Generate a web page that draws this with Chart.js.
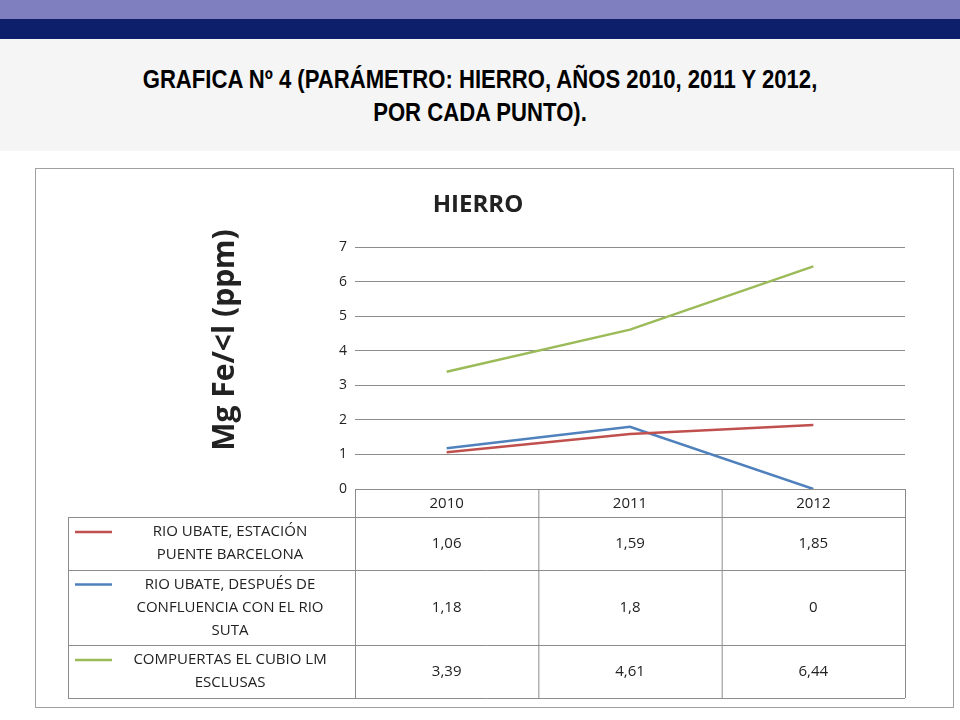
<!DOCTYPE html>
<html><head><meta charset="utf-8">
<script src="https://cdn.jsdelivr.net/npm/chart.js@4/dist/chart.umd.min.js"></script>
<style>
body{margin:0;width:960px;height:720px;position:relative;background:#fff;font-family:"Liberation Sans",Arial,sans-serif;overflow:hidden}
#b1{position:absolute;left:0;top:0;width:960px;height:19px;background:#7f7fbf}
#b2{position:absolute;left:0;top:19px;width:960px;height:20px;background:#0d1f6b}
#hd{position:absolute;left:0;top:39px;width:960px;height:112px;background:#f5f5f5}
#t{position:absolute;left:0;top:63px;width:960px;text-align:center;font-weight:bold;font-size:26px;line-height:33px;color:#000;transform:scaleX(0.85);transform-origin:center}
#box{position:absolute;left:35px;top:168px;width:919px;height:540px;border:1.5px solid #a0a0a0;box-sizing:border-box}
canvas{position:absolute;left:0;top:0}
</style></head><body>
<div id="b1"></div><div id="b2"></div><div id="hd"></div>
<div id="t">GRAFICA Nº 4 (PARÁMETRO: HIERRO, AÑOS 2010, 2011 Y 2012,<br>POR CADA PUNTO).</div>
<div id="box"></div>
<canvas id="c" width="960" height="720"></canvas>
<script>
const categories=["2010","2011","2012"];
const seriesNames=[["RIO UBATE, ESTACIÓN","PUENTE BARCELONA"],["RIO UBATE, DESPUÉS DE","CONFLUENCIA CON EL RIO","SUTA"],["COMPUERTAS EL CUBIO LM","ESCLUSAS"]];
const puenteBarcelona=[1.06,1.59,1.85];
const despuesConfluencia=[1.18,1.8,0];
const compuertasCubio=[3.39,4.61,6.44];
const colors=["#c0504d","#4f81bd","#9bbb59"];
const rowHeights=[53,75,53];
const series=[puenteBarcelona,despuesConfluencia,compuertasCubio];
const FONT='"Open Sans","Liberation Sans",sans-serif';
const tablePlugin={id:'tbl',afterDraw(ch){
 const c=ch.ctx,xs=ch.scales.x,a=ch.chartArea;
 const half=(xs.getPixelForValue(1)-xs.getPixelForValue(0))/2;
 const bounds=[68,a.left];categories.forEach((_,i)=>bounds.push(xs.getPixelForValue(i)+half));
 const hTop=a.bottom,hBot=hTop+28;
 let tops=[hBot];rowHeights.forEach(h=>tops.push(tops[tops.length-1]+h));
 c.save();c.strokeStyle='#8c8c8c';c.lineWidth=1;
 c.beginPath();
 c.moveTo(a.left,hTop+0.5);c.lineTo(a.right,hTop+0.5);
 tops.forEach(y=>{c.moveTo(68,y+0.5);c.lineTo(a.right,y+0.5);});
 bounds.forEach((x,i)=>{c.moveTo(x+0.5,i==0?hBot:hTop);c.lineTo(x+0.5,tops[tops.length-1]);});
 c.stroke();
 c.fillStyle='#222';c.textAlign='center';c.textBaseline='middle';
 c.font='15px '+FONT;
 categories.forEach((cat,i)=>c.fillText(cat,xs.getPixelForValue(i),(hTop+hBot)/2+1));
 series.forEach((s,r)=>{
  const yc=(tops[r]+tops[r+1])/2;
  s.forEach((v,i)=>c.fillText(String(v).replace('.',','),xs.getPixelForValue(i),yc));
  const L=seriesNames[r];
  L.forEach((t,k)=>c.fillText(t,230,yc+(k-(L.length-1)/2)*23));
  c.strokeStyle=colors[r];c.lineWidth=2.5;c.beginPath();
  const ly=yc-(L.length-1)/2*23;c.moveTo(75,ly);c.lineTo(112,ly);c.stroke();
 });
 c.fillStyle='#222';c.font='bold 24px '+FONT;c.fillText('HIERRO',478,205);
 c.translate(225,340);c.rotate(-Math.PI/2);c.font='bold 30px '+FONT;c.fillText('Mg Fe/<l (ppm)',0,0);
 c.restore();
}};
new Chart(document.getElementById('c'),{type:'line',
 data:{labels:categories,datasets:series.map((s,i)=>({data:s,borderColor:colors[i],borderWidth:2.5,pointRadius:0,tension:0,fill:false}))},
 options:{responsive:false,animation:false,plugins:{legend:{display:false},tooltip:{enabled:false}},
  layout:{padding:{left:325,right:55,top:247,bottom:203}},
  scales:{x:{offset:true,grid:{display:false},border:{display:false},ticks:{display:false},afterFit:s=>{s.height=28;}},
   y:{min:0,max:7,ticks:{stepSize:1,color:'#222',font:{size:14,family:FONT},padding:8},grid:{color:'#8c8c8c',drawTicks:false},border:{display:false},afterFit:s=>{s.width=30;}}}},
 plugins:[tablePlugin]});
</script></body></html>
